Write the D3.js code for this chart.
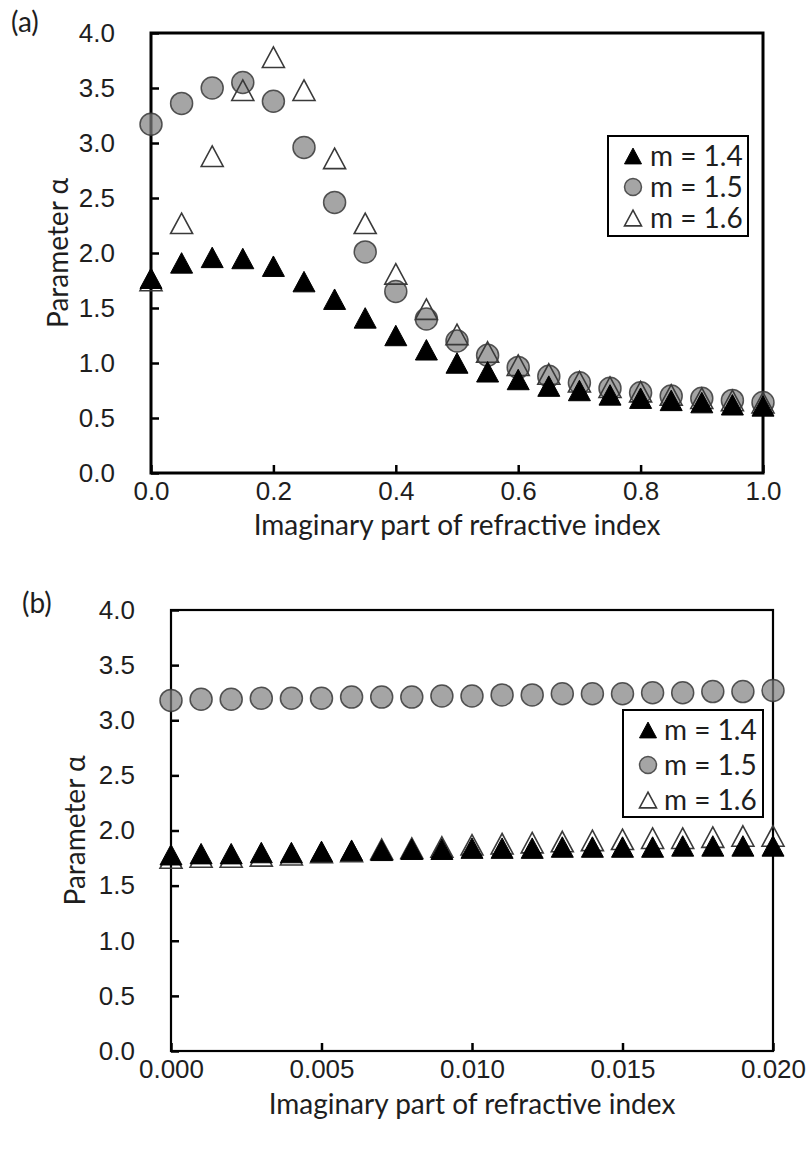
<!DOCTYPE html>
<html>
<head>
<meta charset="utf-8">
<script src="https://cdn.jsdelivr.net/npm/d3@7"></script>
<style>
  body { margin: 0; background: #fff; }
  svg { display: block; font-family: "Lato", sans-serif; }
  .tick text { font-size: 26px; fill: #1e1e1e; }
  .tick line { stroke: #000; stroke-width: 2.5; }
  .domain { display: none; }
  .label { font-size: 28px; fill: #1e1e1e; }
</style>
</head>
<body>
<svg id="chart" width="808" height="1149"></svg>
<script>
// panel (a): k from 0 to 1
const kWide = [0, 0.05, 0.1, 0.15, 0.2, 0.25, 0.3, 0.35, 0.4, 0.45, 0.5,
  0.55, 0.6, 0.65, 0.7, 0.75, 0.8, 0.85, 0.9, 0.95, 1.0];
const m14Wide = [1.77, 1.91, 1.96, 1.95, 1.88, 1.74, 1.58, 1.41, 1.25, 1.12, 1.00,
  0.92, 0.85, 0.79, 0.75, 0.71, 0.68, 0.66, 0.64, 0.62, 0.61];
const m15Wide = [3.17, 3.36, 3.50, 3.55, 3.38, 2.96, 2.46, 2.01, 1.65, 1.40, 1.20,
  1.07, 0.96, 0.88, 0.82, 0.77, 0.73, 0.70, 0.68, 0.66, 0.64];
const m16Wide = [1.75, 2.27, 2.88, 3.48, 3.78, 3.48, 2.86, 2.27, 1.81, 1.49, 1.26,
  1.10, 0.98, 0.90, 0.83, 0.78, 0.74, 0.71, 0.68, 0.66, 0.64];

// panel (b): k from 0 to 0.02
const kNarrow = [0, 0.001, 0.002, 0.003, 0.004, 0.005, 0.006, 0.007, 0.008, 0.009, 0.01,
  0.011, 0.012, 0.013, 0.014, 0.015, 0.016, 0.017, 0.018, 0.019, 0.02];
const m14Narrow = [1.78, 1.79, 1.79, 1.80, 1.80, 1.81, 1.82, 1.82, 1.83, 1.83, 1.84,
  1.84, 1.84, 1.85, 1.85, 1.85, 1.85, 1.86, 1.86, 1.86, 1.86];
const m15Narrow = [3.18, 3.19, 3.19, 3.20, 3.20, 3.20, 3.21, 3.21, 3.21, 3.22, 3.22,
  3.23, 3.23, 3.24, 3.24, 3.24, 3.25, 3.25, 3.26, 3.26, 3.27];
const m16Narrow = [1.75, 1.76, 1.76, 1.77, 1.78, 1.80, 1.81, 1.83, 1.84, 1.85, 1.87,
  1.88, 1.89, 1.90, 1.91, 1.92, 1.93, 1.93, 1.94, 1.95, 1.95];

const yTicks = [0, 0.5, 1, 1.5, 2, 2.5, 3, 3.5, 4];
const xTicksWide = [0, 0.2, 0.4, 0.6, 0.8, 1.0];
const xTicksNarrow = [0, 0.005, 0.01, 0.015, 0.02];
const seriesNames = ["m = 1.4", "m = 1.5", "m = 1.6"];

const xTitle = "Imaginary part of refractive index";
const yTitle = "Parameter α";

// excel-like triangle, centred on its bounding box
const triangle = {
  draw(context, size) {
    const w = Math.sqrt(size);
    const h = w * 0.93;
    context.moveTo(0, -h / 2);
    context.lineTo(w / 2, h / 2);
    context.lineTo(-w / 2, h / 2);
    context.closePath();
  },
};

const svg = d3.select("#chart");

const drawMarkers = (g, kind, points, size) => {
  if (kind === "circle") {
    g.selectAll(null)
      .data(points)
      .join("circle")
      .attr("cx", (d) => d[0])
      .attr("cy", (d) => d[1])
      .attr("r", size / 2)
      .attr("fill", "#7f7f7f")
      .attr("fill-opacity", 0.7)
      .attr("stroke", "#3a3a3a")
      .attr("stroke-opacity", 0.85)
      .attr("stroke-width", 1.5);
    return;
  }
  const filled = kind === "filled";
  g.selectAll(null)
    .data(points)
    .join("path")
    .attr("transform", (d) => `translate(${d[0]},${d[1]})`)
    .attr("d", d3.symbol().type(triangle).size(size * size))
    .attr("fill", filled ? "#000" : "none")
    .attr("stroke", filled ? "#000" : "#3a3a3a")
    .attr("stroke-width", filled ? 1 : 1.6);
};

const drawPanel = (p) => {
  const g = svg.append("g").attr("transform", `translate(${p.left},${p.top})`);

  const x = d3.scaleLinear().domain(p.xDomain).range([0, p.width]);
  const y = d3.scaleLinear().domain([0, 4]).range([p.height, 0]);

  g.append("g")
    .attr("class", "x-axis")
    .attr("transform", `translate(0,${p.height})`)
    .call(
      d3.axisBottom(x)
        .tickValues(p.xTicks)
        .tickFormat(d3.format(p.xFormat))
        .tickSizeInner(-8)
        .tickSizeOuter(0)
        .tickPadding(9)
    );

  g.append("g")
    .attr("class", "y-axis")
    .call(
      d3.axisLeft(y)
        .tickValues(yTicks)
        .tickFormat(d3.format(".1f"))
        .tickSizeInner(-8)
        .tickSizeOuter(0)
        .tickPadding(36)
    );

  g.append("rect")
    .attr("width", p.width)
    .attr("height", p.height)
    .attr("fill", "none")
    .attr("stroke", "#000")
    .attr("stroke-width", p.frameWidth);

  const pts = (vals) => p.k.map((k, i) => [x(k), y(vals[i])]);
  drawMarkers(g.append("g"), "circle", pts(p.m15), 22);
  drawMarkers(g.append("g"), "open", pts(p.m16), 22);
  drawMarkers(g.append("g"), "filled", pts(p.m14), 22);

  // legend
  const lg = svg.append("g").attr("transform", `translate(${p.legend.x},${p.legend.y})`);
  lg.append("rect")
    .attr("width", p.legend.w)
    .attr("height", p.legend.h)
    .attr("fill", "#fff")
    .attr("stroke", "#000")
    .attr("stroke-width", 2);
  const kinds = ["filled", "circle", "open"];
  seriesNames.forEach((name, i) => {
    const cy = p.legend.row0 + i * p.legend.step;
    drawMarkers(lg.append("g"), kinds[i], [[p.legend.markerX, cy]], 17);
    lg.append("text")
      .attr("class", "label")
      .attr("x", p.legend.textX)
      .attr("y", cy)
      .attr("dy", "0.35em")
      .text(name);
  });

  // titles
  svg.append("text")
    .attr("class", "label")
    .attr("x", p.left + p.width / 2)
    .attr("y", p.xTitleY)
    .attr("text-anchor", "middle")
    .attr("dy", "0.35em")
    .text(xTitle);

  svg.append("text")
    .attr("class", "label")
    .attr("transform", `translate(${p.yTitleX},${p.top + p.height / 2}) rotate(-90)`)
    .attr("text-anchor", "middle")
    .attr("dy", "0.35em")
    .text(yTitle);

  svg.append("text")
    .attr("class", "label")
    .attr("x", p.letterX)
    .attr("y", p.letterY)
    .attr("dy", "0.35em")
    .text(p.letter);
};

drawPanel({
  left: 151, top: 33, width: 612, height: 440,
  xDomain: [0, 1], xTicks: xTicksWide, xFormat: ".1f",
  k: kWide, m14: m14Wide, m15: m15Wide, m16: m16Wide,
  frameWidth: 3,
  legend: { x: 608, y: 136, w: 140, h: 100, row0: 20, step: 31, markerX: 25, textX: 42 },
  xTitleY: 525, yTitleX: 58,
  letter: "(a)", letterX: 11, letterY: 22,
});

drawPanel({
  left: 171, top: 610, width: 602, height: 441,
  xDomain: [0, 0.02], xTicks: xTicksNarrow, xFormat: ".3f",
  k: kNarrow, m14: m14Narrow, m15: m15Narrow, m16: m16Narrow,
  frameWidth: 2.2,
  legend: { x: 623, y: 710, w: 140, h: 107, row0: 20, step: 35, markerX: 25, textX: 41 },
  xTitleY: 1104, yTitleX: 75,
  letter: "(b)", letterX: 22, letterY: 603,
});
</script>
</body>
</html>
